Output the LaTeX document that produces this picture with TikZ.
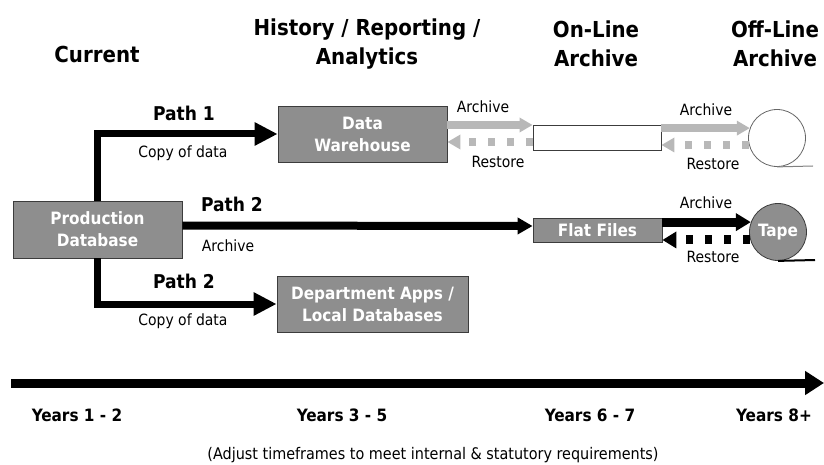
\documentclass[tikz,border=0pt]{standalone}
\usepackage{fontspec}
\setmainfont{DejaVu Sans Condensed}
\usetikzlibrary{arrows.meta}
\definecolor{boxgray}{RGB}{142,142,142}
\definecolor{lightarrow}{RGB}{184,184,184}
\definecolor{edgegray}{RGB}{60,60,60}
\begin{document}
\begin{tikzpicture}[x=1pt,y=-1pt,
  box/.style={draw=edgegray, line width=0.8pt, fill=boxgray, text=white,
    font=\bfseries\fontsize{17}{22}\selectfont, align=center, inner sep=0pt},
  title/.style={font=\bfseries\fontsize{22}{29}\selectfont, align=center},
  pathlbl/.style={font=\bfseries\fontsize{19}{22}\selectfont},
  small/.style={font=\fontsize{15.5}{18}\selectfont},
  notelbl/.style={font=\fontsize{16}{19}\selectfont},
  yearlbl/.style={font=\bfseries\fontsize{17}{20}\selectfont},
  patharrow/.style={line width=7pt, line join=miter, -{Triangle[length=23pt,width=22pt]}},
  midarrow/.style={line width=8pt, -{Triangle[length=15pt,width=16pt]}},
  grayarch/.style={draw=lightarrow, line width=8pt, -{Triangle[length=13pt,width=14pt]}},
  grayrest/.style={draw=lightarrow, line width=8pt, dash pattern=on 7pt off 12pt, -{Triangle[length=13pt,width=14pt]}},
  blackarch/.style={line width=9pt, -{Triangle[length=15pt,width=17pt]}},
  blackrest/.style={line width=9pt, dash pattern=on 7pt off 12pt, -{Triangle[length=14pt,width=16pt]}},
  timearrow/.style={line width=9pt, -{Triangle[length=19pt,width=23pt]}}
]
\useasboundingbox (0,0) rectangle (824,465);

% titles
\node[title] (tcur) at (97,54) {Current};
\node[title] (thist) at (367,44) {History / Reporting /\\Analytics};
\node[title] (tonl) at (596,44) {On-Line\\Archive};
\node[title] (toff) at (775,44) {Off-Line\\Archive};

% boxes
\node[box, minimum width=169pt, minimum height=56pt] (dw) at (362.5,134) {Data\\Warehouse};
\node[box, minimum width=169pt, minimum height=57pt] (prod) at (97.5,229.5) {Production\\Database};
\node[box, minimum width=191pt, minimum height=56pt] (dept) at (372.5,304) {Department Apps /\\Local Databases};
\node[box, minimum width=129pt, minimum height=24pt] (ff) at (597.5,230) {Flat Files};
\node[draw=edgegray, line width=0.8pt, fill=white, minimum width=128pt, minimum height=25pt, inner sep=0pt] (onl) at (597,137.5) {};
\node[circle, draw=gray!80!black, line width=0.8pt, fill=white, minimum size=57pt, inner sep=0pt] (circ) at (777,138) {};
\node[circle, draw=edgegray, line width=0.8pt, fill=boxgray, minimum size=57pt, inner sep=0pt, text=white,
  font=\bfseries\fontsize{17}{20}\selectfont] (tape) at (778,232) {Tape};
\coordinate (circend) at (813,166);
\coordinate (tapeend) at (815,260);
\draw[gray, line width=1pt] (circ.south) -- (circend);
\draw[black, line width=2pt] (tape.south) -- (tapeend);

% main paths
\draw[patharrow] (prod.north) |- (dw.west);
\draw[patharrow] (prod.south) |- (dept.west);
\draw[midarrow] ([yshift=4pt]prod.east) -- ([yshift=4pt]ff.west);

% archive / restore (top row)
\draw[grayarch] ([yshift=9pt]dw.east) -- ([yshift=9pt]dw.east -| onl.west);
\draw[grayrest] ([yshift=-8pt]dw.east -| onl.west) -- ([yshift=-8pt]dw.east);
\draw[grayarch] (onl.east |- circ.160) -- (circ.160);
\draw[grayrest] (circ.194) -- (circ.194 -| onl.east);

% archive / restore (tape row)
\draw[blackarch] (ff.east |- tape.160) -- (tape.160);
\draw[blackrest] (tape.196) -- (tape.196 -| ff.east);

% labels
\node[pathlbl] (p1) at (184,113) {Path 1};
\node[small] (c1) at (183,153) {Copy of data};
\node[pathlbl] (p2) at (232,204) {Path 2};
\node[small] (a2) at (228,246) {Archive};
\node[pathlbl] (p3) at (184,281) {Path 2};
\node[small] (c3) at (183,321) {Copy of data};
\node[small] (la1) at (483,107) {Archive};
\node[small] (lr1) at (498,162) {Restore};
\node[small] (la2) at (706,110) {Archive};
\node[small] (lr2) at (713,164) {Restore};
\node[small] (la3) at (706,203) {Archive};
\node[small] (lr3) at (713,257) {Restore};

% timeline
\coordinate (tl0) at (11,383);
\coordinate (tl1) at (824,383);
\draw[timearrow] (tl0) -- (tl1);
\node[yearlbl] (y1) at (77,415) {Years 1 - 2};
\node[yearlbl] (y2) at (342,415) {Years 3 - 5};
\node[yearlbl] (y3) at (590,415) {Years 6 - 7};
\node[yearlbl] (y4) at (774,415) {Years 8+};
\node[notelbl] (note) at (433,455) {(Adjust timeframes to meet internal \& statutory requirements)};
\end{tikzpicture}
\end{document}
